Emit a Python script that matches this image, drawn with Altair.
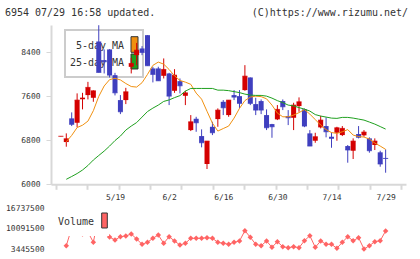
import altair as alt
import pandas as pd

# ---------------- data ----------------
opens = [6870, 6769, 7200, 7120, 7550, 7624, 7575, 8600, 8260, 8455,
         7987, 7533, 7533, 8138, 8351, 8473, 8715, 8109, 8109, 7975,
         8018, 7702, 7878, 7611, 6987, 7193, 6878, 6369, 7047, 7187,
         7502, 7260, 7624, 7605, 7715, 7945, 7460, 7515, 7260, 7096,
         7182, 7515, 7242, 7211, 7424, 7364, 6927, 6793, 7036, 7060,
         6866, 6938, 6896, 6696, 6611, 6915, 6891, 6836, 6715, 6582,
         6480]
highs = [6875, 6927, 7309, 7655, 7665, 7865, 7710, 8896, 8455, 8460,
         8029, 7624, 7756, 8302, 8574, 8515, 8715, 8138, 8140, 8291,
         8029, 8096, 7927, 7702, 7260, 7229, 7000, 6787, 7138, 7382,
         7533, 7533, 7715, 7715, 8169, 7945, 7575, 7545, 7364, 7100,
         7442, 7545, 7351, 7484, 7582, 7380, 6987, 6938, 7247, 7218,
         6945, 7047, 7060, 6715, 6836, 7060, 6987, 6855, 6836, 6611,
         6636]
lows = [6870, 6684, 7060, 7036, 7364, 7545, 7502, 8036, 8018, 7945,
        7618, 7278, 7460, 8018, 8169, 8351, 8158, 7855, 7884, 7927,
        7442, 7665, 7655, 7442, 6969, 6956, 6673, 6278, 6896, 7047,
        7260, 7229, 7533, 7382, 7702, 7442, 7260, 7278, 6987, 6847,
        7169, 7351, 7078, 6987, 7320, 7040, 6696, 6756, 7018, 6855,
        6665, 6793, 6878, 6393, 6460, 6836, 6866, 6575, 6624, 6320,
        6211]
closes = [6875, 6829, 7091, 7533, 7570, 7764, 7702, 8036, 8230, 7987,
          7665, 7320, 7684, 8200, 8442, 8400, 8158, 8000, 7884, 8091,
          7605, 7987, 7793, 7665, 7138, 7120, 6756, 6787, 6938, 7351,
          7393, 7533, 7587, 7473, 7969, 7473, 7351, 7351, 7029, 7047,
          7364, 7411, 7211, 7442, 7502, 7060, 6696, 6866, 7169, 6956,
          6836, 7029, 7018, 6624, 6787, 6855, 6951, 6611, 6787, 6369,
          6470]
ma5 = [None, 6775, 6890, 7033, 7076, 7150, 7340, 7600, 7790, 7905,
       7930, 7900, 7835, 7780, 7770, 7850, 8000, 8165, 8225, 8187,
       8090, 7975, 7890, 7860, 7820, 7660, 7550, 7330, 7113, 6969,
       7015, 7060, 7205, 7382, 7524, 7587, 7605, 7596, 7556, 7442,
       7296, 7229, 7229, 7260, 7305, 7360, 7278, 7178, 7078, 6996,
       6942, 6927, 6956, 6996, 6896, 6869, 6860, 6824, 6751, 6696,
       6636]
ma25 = [None, 6091, 6142, 6196, 6260, 6342, 6442, 6524, 6605, 6696,
        6796, 6878, 6987, 7060, 7124, 7224, 7324, 7387, 7442, 7509,
        7536, 7578, 7614, 7696, 7745, 7745, 7745, 7745, 7745, 7714,
        7714, 7705, 7687, 7669, 7642, 7624, 7618, 7618, 7605, 7569,
        7523, 7487, 7442, 7427, 7396, 7369, 7333, 7269, 7242, 7224,
        7205, 7200, 7218, 7218, 7205, 7187, 7169, 7133, 7096, 7051,
        7005]
volume = [None, 4610000, 10350000, 9050000, 8410000, 9050000, 5710000, 14570000, 12940000, 7400000,
          6460000, 7530000, 7760000, 8410000, 6780000, 5070000, 5710000, 7010000, 8080000, 5390000,
          7530000, 6140000, 4840000, 5390000, 7010000, 7010000, 7010000, 7210000, 7010000, 5710000,
          5390000, 5070000, 5710000, 6140000, 9480000, 7340000, 5070000, 4610000, 6140000, 4090000,
          5910000, 4290000, 3960000, 4290000, 3960000, 6230000, 7850000, 4090000, 6140000, 5070000,
          5070000, 3770000, 5710000, 7530000, 6230000, 7210000, 3540000, 4610000, 5910000, 6230000,
          9380000]
date_ticks = [10, 20, 30, 40, 50, 60]
date_labels = ["5/19", "6/2", "6/16", "6/30", "7/14", "7/29"]
price_ticks = [6000, 6800, 7600, 8400]
volume_ticks = [3445500, 10091500, 16737500]
title_left = "6954 07/29 16:58 updated."
title_right = "(C)https://www.rizumu.net/"
legend_labels = ["5-day MA", "25-day MA"]
volume_label = "Volume"

# ---------------- styling ----------------
RED = "#d40000"
BLUE = "#3f3fbf"
ORANGE = "#f0900f"
GREEN = "#1ea01e"
VOLC = "#ff6464"
AXC = "#d8d8d8"
TXT = "#333333"
MONO = "DejaVu Sans Mono"

W, H = 355, 159.3
X_DOM = [-0.9, 62.84]
xs = alt.Scale(domain=X_DOM, nice=False, zero=False)
py = alt.Scale(domain=[6000, 8900], range=[159.3, 0], nice=False, zero=False)
vy = alt.Scale(domain=[3445500, 16737500], range=[224.3, 183.3], nice=False, zero=False)

n = len(closes)
df = pd.DataFrame({
    "i": list(range(n)), "open": opens, "high": highs, "low": lows,
    "close": closes, "ma5": ma5, "ma25": ma25, "volume": volume,
})
df["dir"] = ["up" if c >= o else "down" for o, c in zip(opens, closes)]
color = alt.Color("dir:N", scale=alt.Scale(domain=["up", "down"], range=[RED, BLUE]), legend=None)

grid_ticks = [X_DOM[0] + k * (X_DOM[1] - X_DOM[0]) / 11 for k in range(12)]
label_expr = "".join(f"datum.value == {v} ? '{l}' : " for v, l in zip(date_ticks, date_labels)) + "''"

tick_axis = alt.Axis(values=grid_ticks, orient="bottom", labels=False, ticks=True, tickSize=5,
                     tickWidth=2, tickColor=AXC, domain=True, domainColor=AXC, domainWidth=2,
                     grid=False, title=None)
label_axis = alt.Axis(values=date_ticks, orient="bottom", labelExpr=label_expr, ticks=False,
                      tickSize=0, domain=False, grid=False, labelPadding=9, labelFont=MONO,
                      labelFontSize=8, labelColor=TXT, title=None,
                      labelOverlap=False, labelFlush=False)
price_axis = alt.Axis(values=price_ticks, orient="left", tickSize=5, tickWidth=1, tickColor=AXC,
                      domainColor=AXC, domainWidth=2, labelPadding=6, labelFont=MONO,
                      labelFontSize=8, labelColor=TXT, grid=False, title=None, format="d")
vol_axis = alt.Axis(values=volume_ticks, orient="left", ticks=False, domain=False,
                    labelPadding=7, labelFont=MONO, labelFontSize=8, labelColor=TXT,
                    grid=False, title=None, format="d")

base = alt.Chart(df)
one = pd.DataFrame({"k": [0]})

# legend box (behind candles)
leg_box = alt.Chart(one).mark_rect(fill="white", stroke="#cccccc", strokeWidth=2).encode(
    x=alt.value(14), x2=alt.value(92), y=alt.value(5), y2=alt.value(52))
leg_t1 = alt.Chart(pd.DataFrame({"t": [legend_labels[0]]})).mark_text(
    align="right", baseline="middle", font=MONO, fontSize=10, color=TXT).encode(
    x=alt.value(73), y=alt.value(21), text="t:N")
leg_t2 = alt.Chart(pd.DataFrame({"t": [legend_labels[1]]})).mark_text(
    align="right", baseline="middle", font=MONO, fontSize=10, color=TXT).encode(
    x=alt.value(73), y=alt.value(37.7), text="t:N")
leg_s1 = alt.Chart(one).mark_rect(fill=ORANGE, stroke="#333333", strokeWidth=1).encode(
    x=alt.value(80), x2=alt.value(87), y=alt.value(11.7), y2=alt.value(27.3))
leg_s2 = alt.Chart(one).mark_rect(fill=GREEN, stroke="#333333", strokeWidth=1).encode(
    x=alt.value(80), x2=alt.value(87), y=alt.value(29), y2=alt.value(44))

wicks = base.mark_rule(strokeWidth=1).encode(
    x=alt.X("i:Q", scale=xs, axis=tick_axis),
    y=alt.Y("low:Q", scale=py, axis=price_axis),
    y2="high:Q", color=color)
bodies = base.mark_bar(size=5).encode(
    x=alt.X("i:Q", scale=xs, axis=label_axis),
    y=alt.Y("open:Q", scale=py, axis=None),
    y2="close:Q", color=color)
dojis = base.mark_tick(orient="horizontal", thickness=1, size=5).encode(
    x=alt.X("i:Q", scale=xs, axis=None),
    y=alt.Y("close:Q", scale=py, axis=None), color=color)
line5 = base.mark_line(color=ORANGE, strokeWidth=1).encode(
    x=alt.X("i:Q", scale=xs, axis=None), y=alt.Y("ma5:Q", scale=py, axis=None))
line25 = base.mark_line(color=GREEN, strokeWidth=1).encode(
    x=alt.X("i:Q", scale=xs, axis=None), y=alt.Y("ma25:Q", scale=py, axis=None))

vline = base.mark_line(color=VOLC, strokeWidth=1).encode(
    x=alt.X("i:Q", scale=xs, axis=None), y=alt.Y("volume:Q", scale=vy, axis=vol_axis))
vpts = base.mark_point(shape="diamond", filled=True, size=30, color=VOLC, opacity=1).encode(
    x=alt.X("i:Q", scale=xs, axis=None), y=alt.Y("volume:Q", scale=vy, axis=None))
vbox = alt.Chart(one).mark_rect(fill="white").encode(
    x=alt.value(6), x2=alt.value(58), y=alt.value(181), y2=alt.value(211))
vtext = alt.Chart(pd.DataFrame({"t": [volume_label]})).mark_text(
    align="right", baseline="middle", font=MONO, fontSize=10, color=TXT).encode(
    x=alt.value(43), y=alt.value(197), text="t:N")
vsw = alt.Chart(one).mark_rect(fill=VOLC, stroke="#333333", strokeWidth=1).encode(
    x=alt.value(50.7), x2=alt.value(56.3), y=alt.value(188), y2=alt.value(203))

tl = alt.Chart(pd.DataFrame({"t": [title_left]})).mark_text(
    align="left", baseline="middle", font=MONO, fontSize=10, color=TXT).encode(
    x=alt.value(-46), y=alt.value(-12), text="t:N")
tr = alt.Chart(pd.DataFrame({"t": [title_right]})).mark_text(
    align="right", baseline="middle", font=MONO, fontSize=10, color=TXT).encode(
    x=alt.value(357), y=alt.value(-12), text="t:N")

chart = alt.layer(
    leg_box, leg_t1, leg_t2, leg_s1, leg_s2,
    wicks, bodies, dojis, line5, line25,
    vline, vpts, vbox, vtext, vsw, tl, tr,
).resolve_scale(y="independent").resolve_axis(x="independent").properties(
    width=W, height=H, autosize="none",
    padding={"left": 51, "top": 25, "right": 14, "bottom": 75},
    background="white",
).configure_view(stroke=None)

chart.save("out.html", embed_options={"renderer": "svg", "actions": False})
